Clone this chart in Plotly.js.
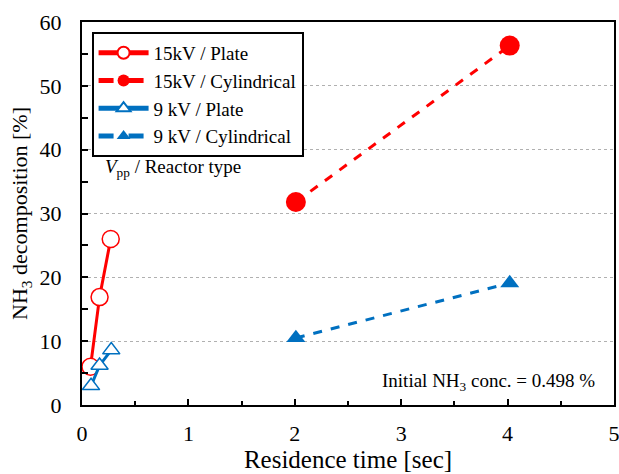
<!DOCTYPE html>
<html><head><meta charset="utf-8">
<script src="https://cdn.plot.ly/plotly-3.0.1.min.js"></script>
<style>html,body{margin:0;padding:0;background:#fff}#chart{width:619px;height:474px}</style>
</head><body><div id="chart"></div>
<script>
var seriesNames = ["15kV / Plate", "15kV / Cylindrical", "9 kV / Plate", "9 kV / Cylindrical"];
var plate15_x = [0.08, 0.165, 0.27];
var plate15_y = [6.0, 16.9, 26.0];
var cyl15_x = [2.01, 4.02];
var cyl15_y = [31.8, 56.3];
var plate9_x = [0.085, 0.165, 0.275];
var plate9_y = [3.0, 6.2, 8.6];
var cyl9_x = [2.01, 4.02];
var cyl9_y = [10.5, 19.1];
var xTicks = [0, 1, 2, 3, 4, 5];
var yTicks = [0, 10, 20, 30, 40, 50, 60];

var RED = "#FF0000", BLUE = "#0070C0";
var FONT = "Liberation Serif, Times New Roman, serif";

var traces = [
  {x: plate15_x, y: plate15_y, name: seriesNames[0], mode: "lines+markers",
   line: {color: RED, width: 3}, marker: {symbol: "circle", size: 17, color: "#fff", line: {color: RED, width: 1.5}}},
  {x: cyl15_x, y: cyl15_y, name: seriesNames[1], mode: "lines+markers",
   line: {color: RED, width: 3, dash: "dash"}, marker: {symbol: "circle", size: 20, color: RED}},
  {x: plate9_x, y: plate9_y, name: seriesNames[2], mode: "lines+markers",
   line: {color: BLUE, width: 3}, marker: {symbol: "triangle-up", size: 15, color: "#fff", line: {color: BLUE, width: 1.5}}},
  {x: cyl9_x, y: cyl9_y, name: seriesNames[3], mode: "lines+markers",
   line: {color: BLUE, width: 3, dash: "dash"}, marker: {symbol: "triangle-up", size: 16.5, color: BLUE}}
];

var layout = {
  width: 619, height: 474,
  margin: {l: 81.5, r: 5, t: 22, b: 69},
  paper_bgcolor: "#fff", plot_bgcolor: "#fff",
  font: {family: FONT, color: "#000", size: 20},
  showlegend: true,
  legend: {x: 0.018, y: 0.974, xanchor: "left", yanchor: "top", bgcolor: "#fff",
    bordercolor: "#000", borderwidth: 2, font: {family: FONT, size: 19, color: "#000"},
    tracegroupgap: 0, itemwidth: 50, itemsizing: "constant"},
  xaxis: {range: [0, 5], tickvals: xTicks, ticktext: xTicks.map(String), ticks: "inside", ticklen: 6, tickwidth: 2, tickcolor: "#000",
    showline: true, linecolor: "#000", linewidth: 2, mirror: true, showgrid: false, zeroline: false,
    ticklabelstandoff: 8, ticklabeloverflow: "allow", tickfont: {size: 22},
    minor: {dtick: 0.5, ticks: "inside", ticklen: 4, tickwidth: 2, tickcolor: "#000", showgrid: false},
    title: {text: "Residence time [sec]", font: {size: 25}, standoff: 2}},
  yaxis: {range: [0, 60], tickvals: yTicks, ticks: "inside", ticklen: 6, tickwidth: 2, tickcolor: "#000",
    showline: true, linecolor: "#000", linewidth: 2, mirror: true, zeroline: false,
    showgrid: true, gridcolor: "#b0b0b0", gridwidth: 1, griddash: "3px,3px",
    ticklabelstandoff: 14, ticklabeloverflow: "allow", tickfont: {size: 22},
    minor: {dtick: 5, ticks: "inside", ticklen: 6, tickwidth: 2, tickcolor: "#000", showgrid: false},
    title: {text: "NH<sub>3</sub> decomposition [%]", font: {size: 22}, standoff: 6}},
  annotations: [
    {xref: "paper", yref: "paper", x: 0.04, y: 0.62, xanchor: "left", yanchor: "middle", showarrow: false,
     text: "<i>V</i><sub>pp</sub> / Reactor type", font: {family: FONT, size: 19, color: "#000"}},
    {xref: "paper", yref: "paper", x: 0.968, y: 0.06, xanchor: "right", yanchor: "middle", showarrow: false,
     text: "Initial NH<sub>3</sub> conc. = 0.498 %", font: {family: FONT, size: 19, color: "#000"}}
  ]
};

Plotly.newPlot("chart", traces, layout, {displayModeBar: false, staticPlot: true});
</script></body></html>
